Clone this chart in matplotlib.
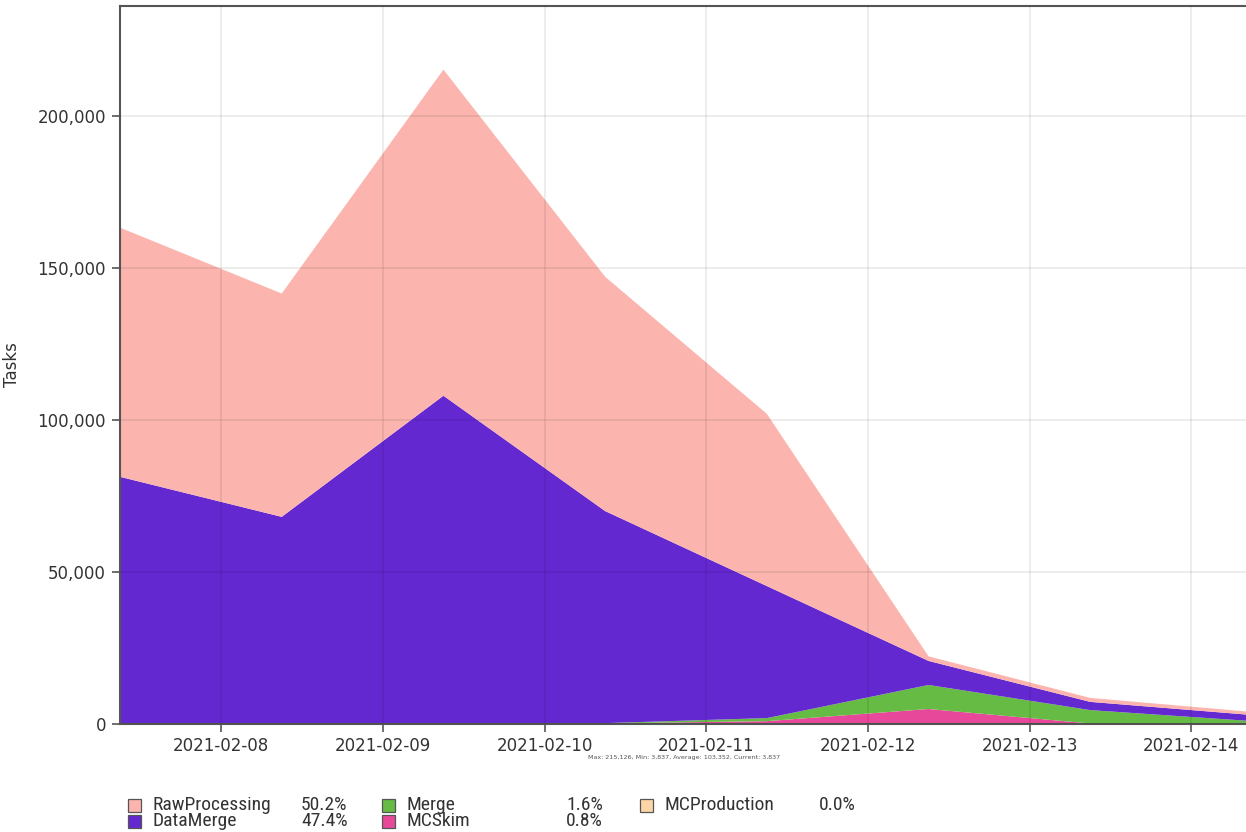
import matplotlib
matplotlib.use("Agg")
import matplotlib.pyplot as plt
import matplotlib.dates as mdates
from matplotlib import font_manager as fm
from matplotlib.patches import Rectangle
from matplotlib.ticker import FuncFormatter, MultipleLocator
import numpy as np
import pandas as pd

dates = pd.date_range("2021-02-07 09:00", periods=8, freq="D")

series_names = ["RawProcessing", "DataMerge", "Merge", "MCSkim", "MCProduction"]
percentages = ["50.2%", "47.4%", "1.6%", "0.8%", "0.0%"]
colors = ["#fbb4ae", "#6428d0", "#66bb44", "#e8489a", "#fdd6a8"]

raw_processing = [81900, 73400, 107200, 77000, 56600, 1500, 1300, 1000]
data_merge = [81000, 67900, 107600, 69700, 43400, 7900, 2700, 2000]
merge = [0, 0, 0, 100, 1000, 7900, 4400, 900]
mc_skim = [200, 150, 250, 150, 900, 4900, 150, 50]
mc_production = [50, 40, 50, 40, 40, 30, 20, 10]

info_text = "Max: 215,126, Min: 3,837, Average: 103,352, Current: 3,837"


def legend_font():
    for fam in ["Liberation Sans Narrow", "Arial Narrow", "Roboto Condensed"]:
        try:
            fm.findfont(fam, fallback_to_default=False)
            return dict(family=fam)
        except Exception:
            pass
    try:
        path = fm.findfont(fm.FontProperties(family="DejaVu Sans", stretch="condensed"))
        if "Condensed" in path:
            return dict(family="DejaVu Sans", stretch="condensed")
    except Exception:
        pass
    return dict(family="DejaVu Sans")


fig = plt.figure(figsize=(12.46, 8.32), dpi=100)
ax = fig.add_axes([120 / 1246, 1 - 724 / 832, (1252 - 120) / 1246, (724 - 6) / 832])

# stack bottom to top
stack_order = [mc_production, mc_skim, merge, data_merge, raw_processing]
stack_colors = [colors[4], colors[3], colors[2], colors[1], colors[0]]
ax.stackplot(dates, *[np.array(s) for s in stack_order], colors=stack_colors, linewidth=0)

ax.set_xlim(dates[0], dates[-1])
ax.set_ylim(0, 236000)
ax.yaxis.set_major_locator(MultipleLocator(50000))
ax.yaxis.set_major_formatter(FuncFormatter(lambda v, p: f"{int(v):,}"))
ax.xaxis.set_major_locator(mdates.DayLocator())
ax.xaxis.set_major_formatter(mdates.DateFormatter("%Y-%m-%d"))

ax.grid(True, color="black", alpha=0.08, linewidth=1.3)
ax.set_axisbelow(False)

for sp in ax.spines.values():
    sp.set_color("#555555")
    sp.set_linewidth(1.5)
ax.tick_params(axis="both", colors="#555555", labelcolor="#333333", labelsize=12,
               length=6, width=1.2, direction="out")
ax.tick_params(axis="y", pad=4)
ax.set_ylabel("Tasks", fontsize=12, color="#333333", labelpad=12)

fig.text(684 / 1246, 1 - 757 / 832, info_text, fontsize=4.6, color="#555555",
         ha="center", va="center")

# legend
lf = legend_font()
col_x = [128, 382, 640]
pct_x = [301, 566, 819]
row_y = [805, 821]
for i, (name, pct, col) in enumerate(zip(series_names, percentages, colors)):
    c, r = i // 2, i % 2
    x0 = col_x[c] / 1246
    y0 = 1 - row_y[r] / 832
    fig.patches.append(Rectangle((x0, y0 - 6.5 / 832), 13 / 1246, 13 / 832,
                                 transform=fig.transFigure, facecolor=col,
                                 edgecolor="#555555", linewidth=0.9))
    fig.text((col_x[c] + 25) / 1246, y0, name, fontsize=14, color="#333333",
             ha="left", va="center", **lf)
    fig.text(pct_x[c] / 1246, y0, pct, fontsize=14, color="#333333",
             ha="left", va="center", **lf)

fig.savefig("out.png", dpi=100)
